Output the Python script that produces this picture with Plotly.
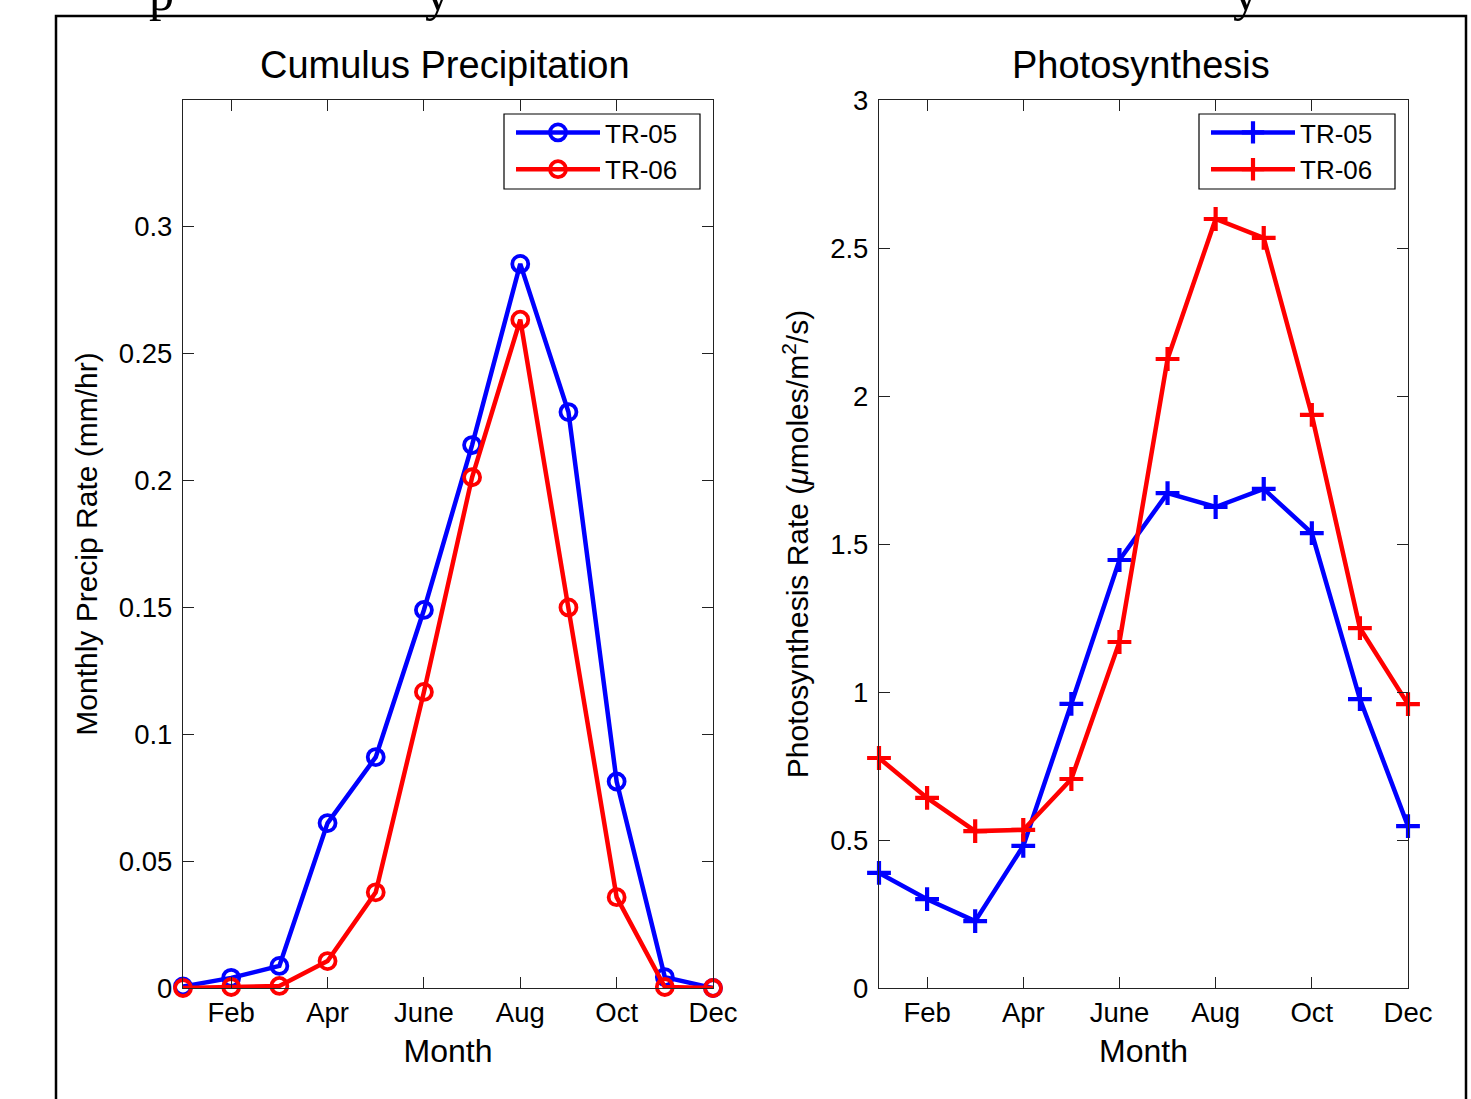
import plotly.graph_objects as go

months = list(range(1, 13))
tick_vals = [2, 4, 6, 8, 10, 12]
tick_text = ["Feb", "Apr", "June", "Aug", "Oct", "Dec"]

precip_tr05 = [0.0006, 0.004, 0.0087, 0.065, 0.091, 0.149, 0.214, 0.2854, 0.227, 0.0814, 0.0043, 0.0]
precip_tr06 = [0.0, 0.0004, 0.0008, 0.0106, 0.0377, 0.1167, 0.2013, 0.2634, 0.150, 0.0358, 0.0004, 0.0]

photo_tr05 = [0.389, 0.30, 0.226, 0.48, 0.96, 1.446, 1.672, 1.625, 1.686, 1.537, 0.976, 0.547]
photo_tr06 = [0.777, 0.642, 0.53, 0.534, 0.706, 1.169, 2.125, 2.598, 2.534, 1.936, 1.216, 0.959]

W, H = 1471, 1099
FONT = "Liberation Sans"
BLUE = "#0000FF"
RED = "#FF0000"


def px(x):
    return x / W


def py(y):
    return 1 - y / H


fig = go.Figure()

circ = dict(symbol="circle-open", size=16, line=dict(width=3.8))
plus = dict(symbol="cross-thin-open", size=17, line=dict(width=4.2))
LW = 4.5

fig.add_trace(go.Scatter(x=months, y=precip_tr05, name="TR-05", mode="lines+markers",
                         line=dict(color=BLUE, width=LW), marker=dict(color=BLUE, **circ),
                         xaxis="x", yaxis="y", legend="legend", cliponaxis=False))
fig.add_trace(go.Scatter(x=months, y=precip_tr06, name="TR-06", mode="lines+markers",
                         line=dict(color=RED, width=LW), marker=dict(color=RED, **circ),
                         xaxis="x", yaxis="y", legend="legend", cliponaxis=False))
fig.add_trace(go.Scatter(x=months, y=photo_tr05, name="TR-05", mode="lines+markers",
                         line=dict(color=BLUE, width=LW), marker=dict(color=BLUE, **plus),
                         xaxis="x2", yaxis="y2", legend="legend2", cliponaxis=False))
fig.add_trace(go.Scatter(x=months, y=photo_tr06, name="TR-06", mode="lines+markers",
                         line=dict(color=RED, width=LW), marker=dict(color=RED, **plus),
                         xaxis="x2", yaxis="y2", legend="legend2", cliponaxis=False))

ax_common = dict(showline=True, linecolor="#222222", linewidth=1.2, mirror="ticks",
                 ticks="inside", ticklen=11, tickwidth=1, tickcolor="#222222",
                 showgrid=False, zeroline=False, automargin=False,
                 tickfont=dict(family=FONT, size=27.5, color="black"))
xt_font = dict(family=FONT, size=32, color="black")
yt_font = dict(family=FONT, size=30, color="black")

y_top, y_bot = py(100), py(988)

leg_common = dict(xanchor="left", yanchor="top", borderwidth=0, bgcolor="rgba(0,0,0,0)",
                  font=dict(family=FONT, size=26, color="black"), itemwidth=84, tracegroupgap=0)

fig.update_layout(
    width=W, height=H,
    margin=dict(l=0, r=0, t=0, b=0, autoexpand=False),
    paper_bgcolor="white", plot_bgcolor="white",
    font=dict(family=FONT, color="black"),
    xaxis=dict(domain=[px(183), px(713)], range=[1, 12], tickvals=tick_vals, ticktext=tick_text,
               anchor="y", title=dict(text="Month", standoff=12, font=xt_font), **ax_common),
    yaxis=dict(domain=[y_bot, y_top], range=[0, 0.35], tickvals=[0, 0.05, 0.1, 0.15, 0.2, 0.25, 0.3],
               ticktext=["0", "0.05", "0.1", "0.15", "0.2", "0.25", "0.3"], ticklabelstandoff=4,
               anchor="x", title=dict(text="Monthly Precip Rate (mm/hr)", standoff=12, font=yt_font),
               **ax_common),
    xaxis2=dict(domain=[px(879), px(1408)], range=[1, 12], tickvals=tick_vals, ticktext=tick_text,
                anchor="y2", title=dict(text="Month", standoff=12, font=xt_font), **ax_common),
    yaxis2=dict(domain=[y_bot, y_top], range=[0, 3], tickvals=[0, 0.5, 1, 1.5, 2, 2.5, 3],
                ticktext=["0", "0.5", "1", "1.5", "2", "2.5", "3"], ticklabelstandoff=4,
                anchor="x2",
                title=dict(text="Photosynthesis Rate (<i>μ</i>moles/m<sup>2</sup>/s)", standoff=12, font=yt_font),
                **ax_common),
    legend=dict(x=px(511), y=py(109), **leg_common),
    legend2=dict(x=px(1206), y=py(109), **leg_common),
    showlegend=True,
)

# legend frames
for x0, x1 in [(504, 700), (1199, 1395)]:
    fig.add_shape(type="rect", xref="paper", yref="paper", x0=px(x0), x1=px(x1), y0=py(189), y1=py(114),
                  line=dict(color="black", width=1.2), fillcolor="white", layer="below")

# panel titles
fig.add_annotation(text="Cumulus Precipitation", x=px(445), y=py(65), xref="paper", yref="paper",
                   xanchor="center", yanchor="middle",
                   showarrow=False, font=dict(family=FONT, size=38, color="black"))
fig.add_annotation(text="Photosynthesis", x=px(1141), y=py(65), xref="paper", yref="paper",
                   xanchor="center", yanchor="middle",
                   showarrow=False, font=dict(family=FONT, size=38, color="black"))

# figure frame
fig.add_shape(type="rect", xref="paper", yref="paper", x0=px(56), x1=px(1466), y0=-0.02, y1=py(16),
              line=dict(color="black", width=2.5), fillcolor="rgba(0,0,0,0)", layer="above")

# cropped fragments of surrounding document text at the very top
for xx, ch in [(161, "p"), (437, "y"), (1245, "y")]:
    fig.add_annotation(text=ch, x=px(xx), y=1, xref="paper", yref="paper",
                       xanchor="center", yanchor="bottom",
                       yshift=-23, showarrow=False,
                       font=dict(family="Liberation Serif", size=50, color="black"))

fig.write_html("out.html")
